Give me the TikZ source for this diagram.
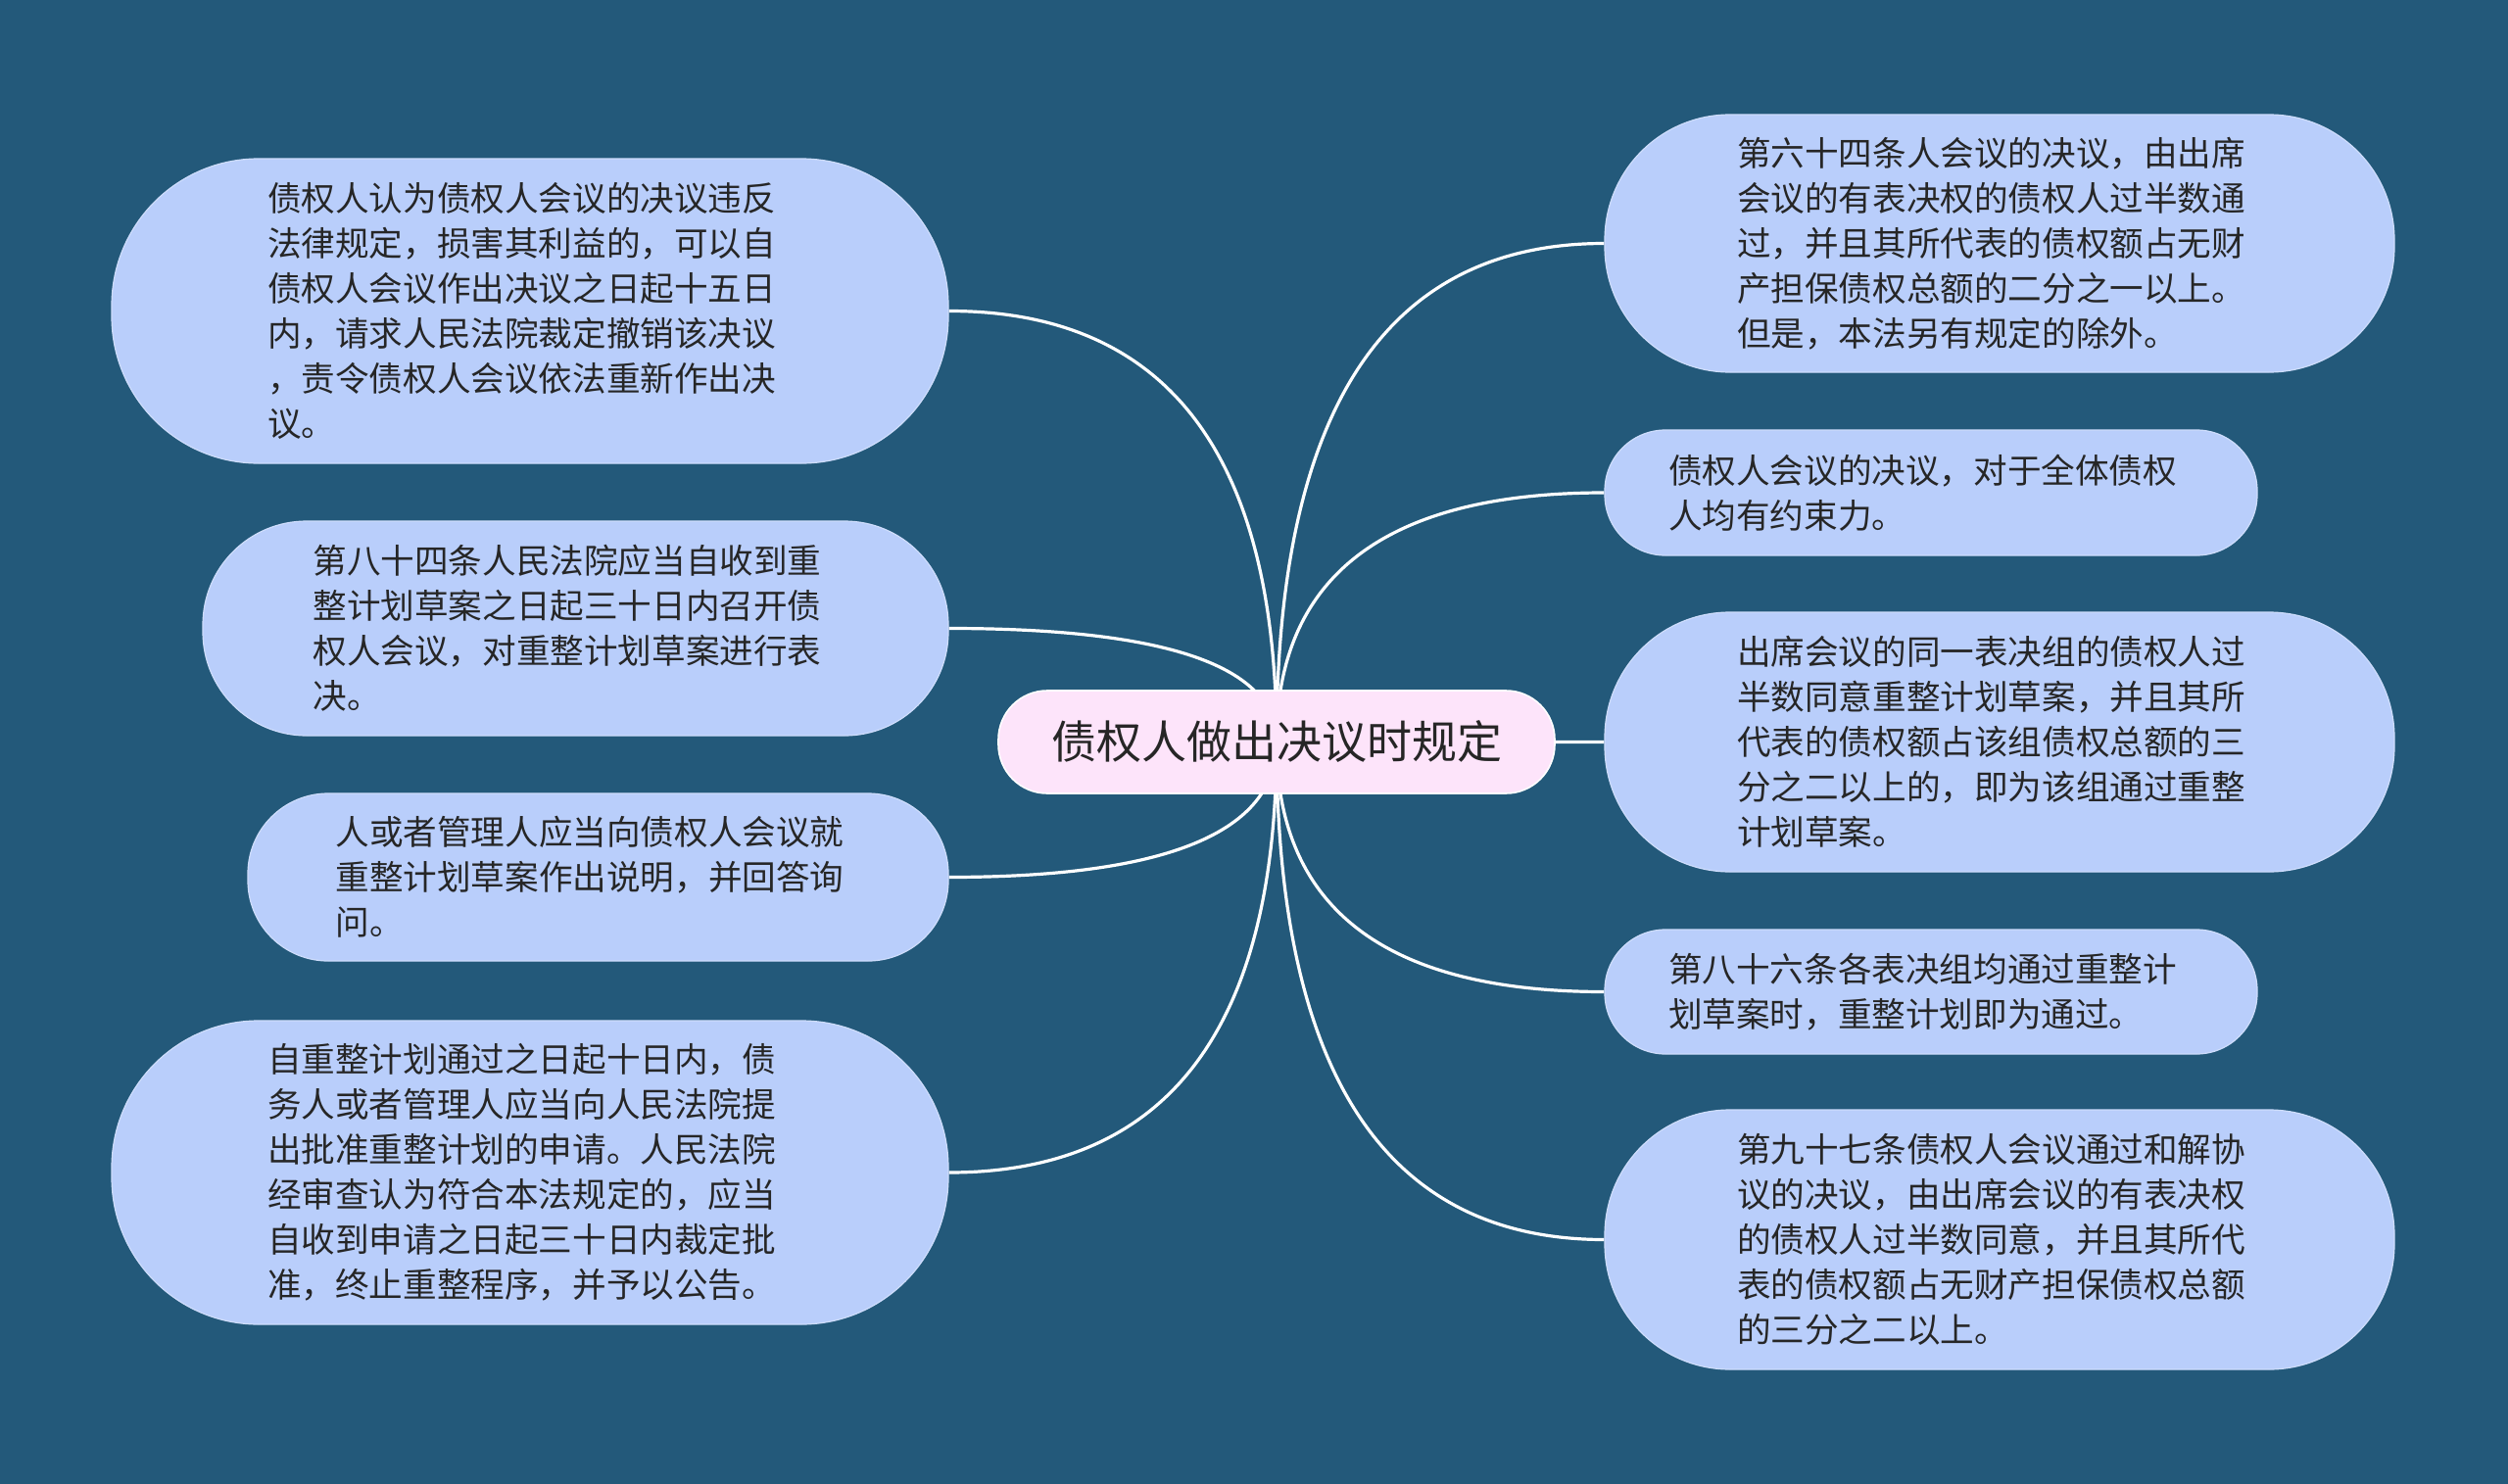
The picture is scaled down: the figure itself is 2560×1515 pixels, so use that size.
\documentclass[tikz,border=0pt]{standalone}
\usepackage{fontspec}
\setmainfont{Noto Sans CJK SC}
\usepackage{xcolor}
\definecolor{DeepSea}{HTML}{23597A}
\definecolor{LeafBlue}{HTML}{B9CEFB}
\definecolor{RootPink}{HTML}{FDE4FA}
\definecolor{InkGrey}{HTML}{262626}
\usepackage{tikz}
\usetikzlibrary{calc,backgrounds}
\newcommand{\twig}[2]{\draw[twig] (#1.center)
  .. controls ($(#1.center)!2/3!(#1.center |- #2)$) and ($(#2)!2/3!(#1.center |- #2)$) .. (#2);}

\begin{document}
\begin{tikzpicture}[x=0.5pt,y=-0.5pt,
  leaf/.style={rectangle,rounded corners=#1,fill=LeafBlue,draw=LeafBlue!70!white,line width=0.6pt,
    text=InkGrey,text width=268pt,align=left,inner sep=0pt,font=\fontsize{17.3pt}{23pt}\selectfont},
  root/.style={rectangle,rounded corners=25pt,fill=RootPink,draw=white,line width=0.8pt,
    text=InkGrey,inner sep=0pt,font=\fontsize{23pt}{28pt}\selectfont},
  twig/.style={white,line width=1.6pt}]
  \useasboundingbox (0,0) rectangle (2560,1515);
  % centre
  \node[root,minimum width=284pt,minimum height=52.5pt] (ctr) at (1303,757.5) {债权人做出决议时规定};
  % left side
  \node[leaf=75pt,minimum width=427pt,minimum height=155.5pt] (L1) at (541,317.5)
     {债权人认为债权人会议的决议违反\\法律规定，损害其利益的，可以自\\债权人会议作出决议之日起十五日\\内，请求人民法院裁定撤销该决议\\，责令债权人会议依法重新作出决\\议。};
  \node[leaf=53pt,minimum width=380.5pt,minimum height=109.5pt] (L2) at (587.5,641.5)
     {第八十四条人民法院应当自收到重\\整计划草案之日起三十日内召开债\\权人会议，对重整计划草案进行表\\决。};
  \node[leaf=41pt,minimum width=357.5pt,minimum height=85.5pt] (L3) at (610.5,895.5)
     {人或者管理人应当向债权人会议就\\重整计划草案作出说明，并回答询\\问。};
  \node[leaf=75pt,minimum width=427pt,minimum height=155pt] (L4) at (541,1197)
     {自重整计划通过之日起十日内，债\\务人或者管理人应当向人民法院提\\出批准重整计划的申请。人民法院\\经审查认为符合本法规定的，应当\\自收到申请之日起三十日内裁定批\\准，终止重整程序，并予以公告。};
  % right side
  \node[leaf=64pt,minimum width=403pt,minimum height=131.5pt] (R1) at (2041,248.5)
     {第六十四条人会议的决议，由出席\\会议的有表决权的债权人过半数通\\过，并且其所代表的债权额占无财\\产担保债权总额的二分之一以上。\\但是，本法另有规定的除外。};
  \node[leaf=31pt,minimum width=333pt,minimum height=64pt] (R2) at (1971,503)
     {债权人会议的决议，对于全体债权\\人均有约束力。};
  \node[leaf=64pt,minimum width=403pt,minimum height=132.5pt] (R3) at (2041,757.5)
     {出席会议的同一表决组的债权人过\\半数同意重整计划草案，并且其所\\代表的债权额占该组债权总额的三\\分之二以上的，即为该组通过重整\\计划草案。};
  \node[leaf=31pt,minimum width=333pt,minimum height=63.5pt] (R4) at (1971,1012.5)
     {第八十六条各表决组均通过重整计\\划草案时，重整计划即为通过。};
  \node[leaf=64pt,minimum width=403pt,minimum height=132.5pt] (R5) at (2041,1265.5)
     {第九十七条债权人会议通过和解协\\议的决议，由出席会议的有表决权\\的债权人过半数同意，并且其所代\\表的债权额占无财产担保债权总额\\的三分之二以上。};
  % background and branches
  \begin{scope}[on background layer]
    \fill[DeepSea] (0,0) rectangle (2560,1515);
    \twig{ctr}{L1.east}
    \twig{ctr}{L2.east}
    \twig{ctr}{L3.east}
    \twig{ctr}{L4.east}
    \twig{ctr}{R1.west}
    \twig{ctr}{R2.west}
    \twig{ctr}{R3.west}
    \twig{ctr}{R4.west}
    \twig{ctr}{R5.west}
  \end{scope}
\end{tikzpicture}
\end{document}
